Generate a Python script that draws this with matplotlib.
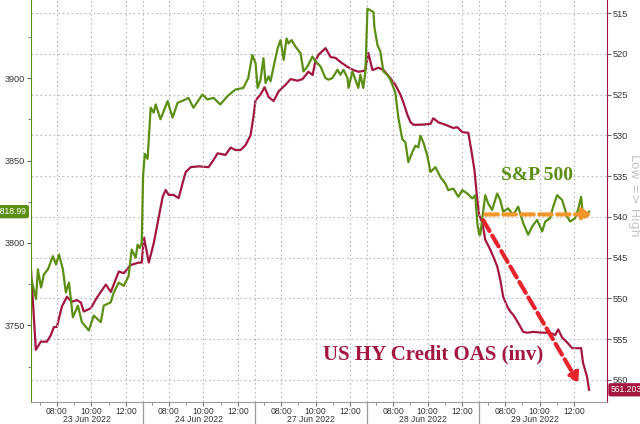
import matplotlib
matplotlib.use("Agg")
import matplotlib.pyplot as plt
import matplotlib.transforms as mtransforms

# x values: trading hours since the 23 Jun open, sessions 06:30-13:00 packed end to end
SESSION_OPEN = 6.5
SESSION_LEN = 6.5
days = ["23 Jun 2022", "24 Jun 2022", "27 Jun 2022", "28 Jun 2022", "29 Jun 2022"]
major_clock = [8, 10, 12]
minor_clock = [7, 9, 11]

spx_t = [
    0.00, 0.29, 0.40, 0.58, 0.75, 0.98, 1.27, 1.45, 1.62, 1.85, 2.02, 2.20, 2.43, 2.72,
    2.95, 3.35, 3.64, 4.05, 4.22, 4.62, 4.80, 5.09, 5.38, 5.66, 5.84, 6.07, 6.18, 6.30, 6.42,
    6.50, 6.60, 6.76, 6.94, 7.11, 7.23, 7.51, 7.92, 8.21, 8.50, 8.96, 9.13, 9.42, 9.94,
    10.23, 10.58, 10.98, 11.39, 11.85, 12.31, 12.60, 12.83,
    13.02, 13.14, 13.31, 13.48, 13.60, 13.78, 13.89, 14.07, 14.30, 14.47, 14.65, 14.82,
    14.93, 15.11, 15.34, 15.63, 15.80, 16.03, 16.32, 16.50, 16.79, 17.07, 17.25, 17.48,
    17.77, 17.94, 18.12, 18.35, 18.41, 18.64, 18.81, 18.98, 19.10, 19.27, 19.39,
    19.51, 19.68, 19.86, 19.91, 20.09, 20.26, 20.43, 20.66, 20.84, 21.13, 21.30, 21.53,
    21.71, 21.88, 22.11, 22.29, 22.46, 22.58, 22.75, 22.98, 23.16, 23.45, 23.74, 24.03,
    24.20, 24.49, 24.78, 25.01, 25.30, 25.59, 25.76, 25.88, 25.99,
    26.05, 26.23, 26.34, 26.51, 26.74, 27.03, 27.21, 27.38, 27.67, 27.96, 28.25, 28.54,
    28.83, 29.06, 29.35, 29.64, 29.82, 30.10, 30.28, 30.51, 30.80, 31.09, 31.26, 31.55,
    31.72, 31.90, 32.01, 32.24, 32.36,
]
spx_v = [
    3779, 3766, 3784, 3773, 3781, 3784, 3792, 3787, 3793, 3784, 3770, 3776, 3755, 3762,
    3752, 3747, 3756, 3752, 3762, 3764, 3770, 3776, 3774, 3780, 3796, 3791, 3799, 3797, 3800,
    3841, 3854, 3851, 3882, 3879, 3884, 3875, 3886, 3876, 3885, 3887, 3888, 3882, 3890,
    3887, 3888, 3884, 3889, 3893, 3894, 3900, 3914,
    3909, 3894, 3899, 3912, 3897, 3901, 3898, 3907, 3918, 3923, 3911, 3924,
    3921, 3923, 3919, 3915, 3904, 3907, 3913, 3910, 3907, 3900, 3899, 3900,
    3905, 3902, 3905, 3900, 3894, 3904, 3899, 3894, 3902, 3894, 3904,
    3942, 3941, 3940, 3931, 3920, 3916, 3904, 3902, 3899, 3891, 3876, 3863,
    3861, 3849, 3855, 3859, 3858, 3865, 3861, 3853, 3843, 3846, 3840, 3836,
    3832, 3833, 3828, 3832, 3830, 3827, 3829, 3812, 3805,
    3805, 3820, 3829, 3824, 3820, 3830, 3826, 3819, 3821, 3817, 3822, 3812,
    3805, 3810, 3814, 3807, 3813, 3815, 3822, 3829, 3826, 3816, 3813, 3815,
    3820, 3828, 3816, 3817, 3818.99,
]

hy_t = [
    0.00, 0.28, 0.57, 0.92, 1.15, 1.33, 1.50, 1.79, 2.08, 2.37, 2.66, 2.89, 3.06, 3.47,
    3.82, 4.34, 4.63, 5.09, 5.38, 5.78, 6.25, 6.42,
    6.55, 6.83, 7.12, 7.41, 7.64, 7.81, 7.98, 8.27, 8.56, 8.80, 8.97, 9.26, 9.72, 10.30,
    10.59, 10.82, 11.28, 11.57, 11.86, 12.15, 12.44, 12.73, 12.90,
    13.02, 13.31, 13.54, 13.78, 14.07, 14.36, 14.76, 15.05, 15.46, 15.74, 16.09, 16.33,
    16.50, 16.68, 17.08, 17.37, 17.66, 17.94, 18.35, 18.70, 18.99, 19.28, 19.39,
    19.56, 19.80, 20.15, 20.44, 20.84, 21.13, 21.42, 21.60, 21.83, 22.01, 22.18, 22.58,
    23.16, 23.33, 23.62, 24.03, 24.49, 24.72, 25.01, 25.36, 25.53, 25.71, 25.88, 25.99,
    26.17, 26.34, 26.63, 26.81, 27.04, 27.21, 27.38, 27.62, 27.79, 27.96, 28.25, 28.54,
    28.77, 29.12, 29.64, 30.10, 30.39, 30.57, 30.80, 31.09, 31.38, 31.90, 32.01, 32.24, 32.36,
]
hy_v = [
    546.5, 556.3, 555.3, 555.3, 554.5, 553.5, 553.5, 551.0, 549.8, 550.4, 550.2, 550.5, 551.6, 551.2,
    549.9, 548.3, 549.2, 546.7, 546.9, 545.9, 545.6, 545.6,
    542.5, 545.6, 543.2, 540.0, 537.5, 536.7, 537.3, 537.3, 537.7, 535.8, 534.5, 533.9, 533.8, 533.9,
    533.0, 532.2, 532.4, 531.5, 531.8, 531.8, 531.2, 530.0, 527.7,
    525.7, 525.0, 524.1, 525.3, 525.8, 524.6, 523.8, 523.1, 523.3, 523.1, 522.2, 522.6,
    520.8, 520.1, 519.3, 520.4, 520.5, 521.0, 521.6, 522.0, 522.2, 522.1, 521.9,
    519.9, 522.0, 521.7, 522.0, 523.0, 523.8, 525.0, 526.0, 527.5, 528.4, 528.7, 528.7,
    528.6, 527.9, 528.4, 528.7, 529.1, 529.0, 529.6, 529.7, 531.8, 534.2, 537.9, 539.8,
    540.7, 542.8, 544.0, 544.9, 546.1, 547.7, 549.8, 551.0, 551.6, 552.0, 553.0, 554.1,
    554.2, 554.1, 554.2, 554.2, 554.5, 553.8, 554.8, 555.4, 556.1, 556.1, 557.9, 559.6, 561.203,
]

spx_ticks = [3750, 3800, 3850, 3900]
hy_ticks = list(range(515, 561, 5))

# hand-drawn arrows (start, end) in data units
flat_arrow = ((26.35, 3817.3), (32.5, 3817.3))       # on the S&P axis
drop_arrow = ((26.22, 540.4), (31.73, 560.3))        # on the OAS axis

GREEN = "#5b8f14"
MAROON = "#a3173f"
GRID = "#b8b8b8"
TICK_TXT = "#333333"
FS = 6.2

fig = plt.figure(figsize=(6.4, 4.24), dpi=100)
ax = fig.add_axes([31 / 640, 22 / 424, 576 / 640, 402 / 424])
ax2 = ax.twinx()
ax2.set_zorder(ax.get_zorder() - 1)
ax.patch.set_visible(False)

ax2.plot(hy_t, hy_v, color=MAROON, lw=1.6, solid_joinstyle="round")
ax.plot(spx_t, spx_v, color=GREEN, lw=1.6, solid_joinstyle="round")

ax.set_xlim(0, 33.4)
ax.set_ylim(3703.6, 3947.3)
ax2.set_ylim(562.7, 513.4)

# x ticks: 08/10/12 on every session, hourly minors, long separators between days
maj = [d * SESSION_LEN + c - SESSION_OPEN for d in range(len(days)) for c in major_clock]
mnr = [d * SESSION_LEN + c - SESSION_OPEN for d in range(len(days)) for c in minor_clock]
seps = [d * SESSION_LEN for d in range(1, len(days))]
ax.set_xticks(maj)
ax.set_xticklabels([f"{c:02d}:00" for d in days for c in major_clock])
ax.set_xticks(mnr, minor=True)

ax.set_yticks(spx_ticks)
ax.set_yticks([v + 25 for v in [3700] + spx_ticks], minor=True)
ax2.set_yticks(hy_ticks)

for x in maj + seps:
    ax2.axvline(x, color=GRID, ls=(0, (1.5, 2.5)), lw=0.8)
ax2.grid(axis="y", color=GRID, ls=(0, (1.5, 2.5)), lw=0.8)

trans = mtransforms.blended_transform_factory(ax.transData, ax.transAxes)
for x in seps:
    ax.plot([x, x], [0, -0.06], transform=trans, color="#999999", lw=0.9, clip_on=False)
for d, name in enumerate(days):
    ax.annotate(name, xy=(d * SESSION_LEN + SESSION_LEN / 2, 0), xycoords=trans,
                xytext=(0, -12.9), textcoords="offset points", ha="center", va="center",
                fontsize=FS, color=TICK_TXT, family="Liberation Sans")

ax.tick_params(axis="x", which="major", length=3, pad=0.6, labelsize=FS,
               labelcolor=TICK_TXT, color="#777777")
ax.tick_params(axis="x", which="minor", length=2, color="#777777")
ax.tick_params(axis="y", which="major", length=3, pad=1.5, labelsize=FS + 0.4,
               labelcolor=TICK_TXT, color="#666666")
ax.tick_params(axis="y", which="minor", length=2, color="#666666")
ax2.tick_params(axis="y", length=3, pad=1.2, labelsize=FS + 0.4, labelcolor=TICK_TXT,
                color="#666666")
for lab in ax.get_xticklabels() + ax.get_yticklabels() + ax2.get_yticklabels():
    lab.set_family("Liberation Sans")

for s in ["top", "right"]:
    ax.spines[s].set_visible(False)
for s in ["top", "left", "bottom"]:
    ax2.spines[s].set_visible(False)
ax.spines["left"].set_color(GREEN)
ax.spines["bottom"].set_color("#999999")
ax2.spines["right"].set_color(MAROON)

# last-value boxes
ax.annotate(f"{spx_v[-1]:.2f}", xy=(0, spx_v[-1]), xycoords=("axes fraction", "data"),
            xytext=(-3, 0), textcoords="offset points", ha="right", va="center",
            color="white", fontsize=FS, family="Liberation Sans", annotation_clip=False,
            bbox=dict(boxstyle="round,pad=0.25", fc=GREEN, ec="none"))
ax2.annotate(f"{hy_v[-1]:.3f}", xy=(1, hy_v[-1]), xycoords=("axes fraction", "data"),
             xytext=(2.5, 0), textcoords="offset points", ha="left", va="center",
             color="white", fontsize=FS, family="Liberation Sans", annotation_clip=False,
             bbox=dict(boxstyle="round,pad=0.25", fc=MAROON, ec="none"))

# arrows
ax.annotate("", xy=flat_arrow[1], xytext=flat_arrow[0],
            arrowprops=dict(arrowstyle="-|>,head_length=0.5,head_width=0.35",
                            color="#f0962a", lw=3, linestyle=(0, (3, 1.3)),
                            shrinkA=0, shrinkB=0))
ax.annotate("", xy=drop_arrow[1], xytext=drop_arrow[0],
            xycoords=ax2.transData, textcoords=ax2.transData,
            arrowprops=dict(arrowstyle="-|>,head_length=0.5,head_width=0.35",
                            color="#e5232b", lw=3, linestyle=(0, (3, 1.3)),
                            shrinkA=0, shrinkB=0))

ax.text(29.35, 3841.2, "S&P 500", color=GREEN, fontsize=14, fontweight="bold",
        family="Liberation Serif", ha="center", va="center")
ax.text(23.33, 556.9, "US HY Credit OAS (inv)", color=MAROON, fontsize=15,
        fontweight="bold", family="Liberation Serif", ha="center", va="center",
        transform=ax2.transData)

fig.text(0.991, 0.54, "Low => High", rotation=-90, color="#c4c4c4", fontsize=9,
         ha="center", va="center")

fig.savefig("out.png", dpi=100)
